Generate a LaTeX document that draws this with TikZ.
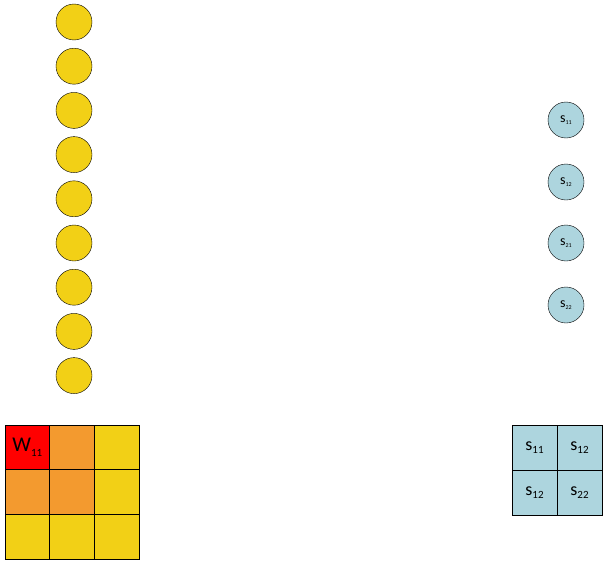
\documentclass[tikz,border=0pt]{standalone}
\usepackage{fontspec}
\setmainfont{Carlito}
\usetikzlibrary{positioning}

\definecolor{cellyellow}{HTML}{F2D016}
\definecolor{cellorange}{HTML}{F39A2F}
\definecolor{cellred}{HTML}{FF0000}
\definecolor{cellblue}{HTML}{ADD5DE}

\begin{document}
\begin{tikzpicture}[x=1pt, y=-1pt,
  inunit/.style={circle, draw, thin, fill=cellyellow, minimum size=36pt, inner sep=0pt},
  sunit/.style={circle, draw, thin, fill=cellblue, minimum size=36pt, inner sep=0pt,
    font=\fontsize{14}{14}\selectfont},
  wcell/.style={rectangle, draw, thin, minimum size=44.7pt, inner sep=0pt},
  scell/.style={rectangle, draw, thin, fill=cellblue, minimum size=45pt, inner sep=0pt,
    font=\fontsize{18}{18}\selectfont},
]
\useasboundingbox (0,0) rectangle (610,570);

% input units
\foreach \i in {0,...,8}
  \node[inunit] (in\i) at (74,22+44.2*\i) {};

% similarity units
\node[sunit] (s11) at (566,120) {s\raisebox{-2pt}{\fontsize{6}{6}\selectfont 11}};
\node[sunit] (s12) at (566,182) {s\raisebox{-2pt}{\fontsize{6}{6}\selectfont 12}};
\node[sunit] (s21) at (566,243) {s\raisebox{-2pt}{\fontsize{6}{6}\selectfont 21}};
\node[sunit] (s22) at (566,305) {s\raisebox{-2pt}{\fontsize{6}{6}\selectfont 22}};

% weight grid
\foreach \r in {0,1,2}
  \foreach \c in {0,1,2}
    \node[wcell, fill=cellyellow] (w\r\c) at (27.3+44.7*\c,447.3+44.7*\r) {};
\node[wcell, fill=cellorange] at (w01) {};
\node[wcell, fill=cellorange] at (w10) {};
\node[wcell, fill=cellorange] at (w11) {};
\node[wcell, fill=cellred] at (w00)
  {\fontsize{21}{21}\selectfont W\raisebox{-5pt}{\fontsize{11}{11}\selectfont 11}};

% similarity grid
\node[scell] (g11) at (534.5,447.5) {s\raisebox{-3pt}{\fontsize{11}{11}\selectfont 11}};
\node[scell] (g12) at (579.5,447.5) {s\raisebox{-3pt}{\fontsize{11}{11}\selectfont 12}};
\node[scell] (g21) at (534.5,492.5) {s\raisebox{-3pt}{\fontsize{11}{11}\selectfont 12}};
\node[scell] (g22) at (579.5,492.5) {s\raisebox{-3pt}{\fontsize{11}{11}\selectfont 22}};

\end{tikzpicture}
\end{document}
